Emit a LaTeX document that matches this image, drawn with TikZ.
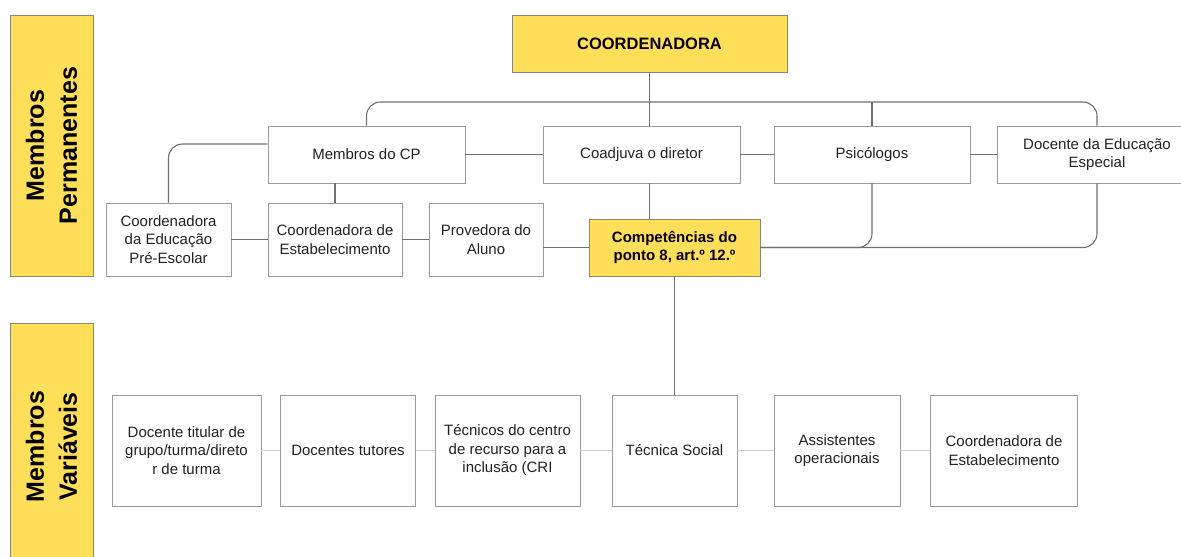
\documentclass[tikz,border=0pt]{standalone}
\usepackage{fontspec}
\setmainfont{Liberation Sans}
\definecolor{ylw}{HTML}{FFDE59}
\definecolor{bord}{HTML}{9A9A9A}
\definecolor{ybord}{HTML}{8C8770}
\definecolor{lnk}{HTML}{707070}
\definecolor{lnklight}{HTML}{CFCFCF}
\definecolor{txt}{HTML}{222222}
\tikzset{
  box/.style={draw=bord, line width=0.9pt, fill=white, inner sep=2pt, align=center,
    text=txt, font=\fontsize{15}{18.5}\selectfont},
  ybox/.style={box, draw=ybord, fill=ylw, text=black},
  bar/.style={draw=ybord, line width=1pt, fill=ylw, rotate=90, align=center, text=black,
    font=\fontsize{25}{33}\selectfont\bfseries},
  lk/.style={draw=lnk, line width=1.1pt},
  lkl/.style={draw=lnklight, line width=1.1pt},
  rc/.style={rounded corners=14pt}
}
\begin{document}
\begin{tikzpicture}[x=1pt,y=-1pt]
\useasboundingbox (0,0) rectangle (1181,557);
\fill[white] (0,0) rectangle (1181,557);
\clip (0,0) rectangle (1181,557);

% side bars
\node[bar, minimum width=261pt, minimum height=83pt] (perm) at (51.5,145.5) {Membros\\Permanentes};
\node[bar, minimum width=247pt, minimum height=83pt] (var) at (51.5,446.5) {Membros\\Variáveis};

% top
\node[ybox, minimum width=275pt, minimum height=57pt, font=\fontsize{16.5}{20}\selectfont\bfseries] (coord) at (649.5,43.5) {COORDENADORA};

\coordinate (busy) at (0,102);
\coordinate (y144) at (0,144);

% row 2
\node[box, minimum width=197pt, minimum height=57pt] (cp) at (366.5,154.5) {Membros do CP};
\node[box, minimum width=197pt, minimum height=57pt] (coadj) at (641.5,154.5) {Coadjuva o diretor};
\node[box, minimum width=196pt, minimum height=57pt] (psi) at (872,154.5) {Psicólogos};
\node[box, minimum width=200pt, minimum height=57pt] (desp) at (1097,154.5) {Docente da Educação\\Especial};

% row 3
\node[box, minimum width=125pt, minimum height=73pt] (pre) at (168.5,239.5) {Coordenadora\\da Educação\\Pré-Escolar};
\node[box, minimum width=134pt, minimum height=73pt] (estab) at (335,239.5) {Coordenadora de\\Estabelecimento};
\node[box, minimum width=114pt, minimum height=73pt] (prov) at (486,239.5) {Provedora do\\Aluno};
\node[ybox, minimum width=171pt, minimum height=57pt, font=\fontsize{15}{18.5}\selectfont\bfseries] (comp) at (674.5,247.5) {Competências do\\ponto 8, art.º 12.º};

% row 4
\node[box, minimum width=149pt, minimum height=111pt] (dt) at (186.5,450.5) {Docente titular de\\grupo/turma/direto\\r de turma};
\node[box, minimum width=135pt, minimum height=111pt] (tut) at (348,450.5) {Docentes tutores};
\node[box, minimum width=145pt, minimum height=111pt] (tec) at (507.5,450.5) {Técnicos do centro\\de recurso para a\\inclusão (CRI};
\node[box, minimum width=125pt, minimum height=111pt] (ts) at (674.5,450.5) {Técnica Social};
\node[box, minimum width=126pt, minimum height=111pt] (ass) at (837,450.5) {Assistentes\\operacionais};
\node[box, minimum width=146.5pt, minimum height=111pt] (ce2) at (1004,450.5) {Coordenadora de\\Estabelecimento};

% connectors (top part)
\draw[lk] (coord.south) -- (coord.south |- coadj.north);
\draw[lk] (coord.south |- coadj.south) -- (coord.south |- comp.north);
\draw[lk, rc] (cp.north) |- (desp.north |- busy) -- (desp.north);
\draw[lk] (psi.north) -- (psi.north |- busy);
\draw[lk] (cp) -- (coadj);
\draw[lk] (coadj) -- (psi);
\draw[lk] (psi) -- (desp);
\draw[lk, rc] (cp.west |- y144) -| (pre.north);
\draw[lk] (estab.north) -- (estab.north |- cp.south);
\draw[lk] (pre) -- (estab);
\draw[lk] (estab) -- (prov);
\draw[lk] (prov.east |- comp.west) -- (comp.west);
\draw[lk, rc] (psi.south) |- (comp.east);
\draw[lk, rc] (desp.south) |- (comp.east);
\draw[lk] (comp.south) -- (ts.north);

% bottom row connectors
\draw[lkl] (dt) -- (tut);
\draw[lkl] (tut) -- (tec);
\draw[lkl] (tec) -- (ts);
\draw[lkl] (ts) -- (ass);
\draw[lkl] (ass) -- (ce2);
\end{tikzpicture}
\end{document}
